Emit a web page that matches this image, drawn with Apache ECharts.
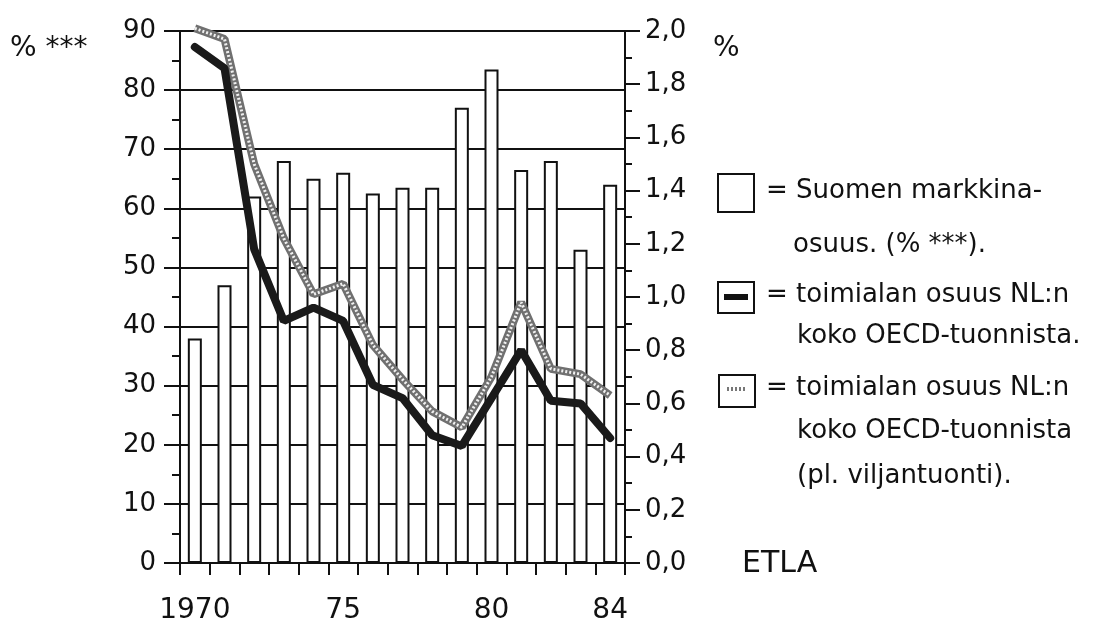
<!DOCTYPE html>
<html>
<head>
<meta charset="utf-8">
<script src="https://cdn.jsdelivr.net/npm/echarts@6/dist/echarts.min.js"></script>
<style>
html, body { margin: 0; padding: 0; background: #fff; }
#chart { width: 1096px; height: 636px; }
</style>
</head>
<body>
<div id="chart"></div>
<script>
"use strict";
// vuodet ja akselin näkyvät nimikkeet
const years = ['1970', '1971', '1972', '1973', '1974', '1975', '1976', '1977',
    '1978', '1979', '1980', '1981', '1982', '1983', '1984'];
const yearLabels = { '1970': '1970', '1975': '75', '1980': '80', '1984': '84' };

// Suomen markkinaosuus (% ***), vasen akseli
const marketShare = [38, 47, 62, 68, 65, 66, 62.5, 63.5, 63.5, 77, 83.5, 66.5, 68, 53, 64];
// toimialan osuus NL:n koko OECD-tuonnista (%), oikea akseli
const importShare = [1.94, 1.86, 1.18, 0.91, 0.96, 0.91, 0.67, 0.62, 0.48, 0.44, 0.62, 0.80, 0.61, 0.60, 0.47];
// sama ilman viljantuontia
const importShareExGrain = [2.01, 1.97, 1.50, 1.22, 1.01, 1.05, 0.82, 0.69, 0.57, 0.51, 0.70, 0.98, 0.73, 0.71, 0.63];

const FONT = 'DejaVu Sans';

(() => {
    let chart = echarts.init(document.getElementById('chart'));
    const txt = (x, y, text, size) => ({
        type: 'text', left: x, top: y,
        style: { text: text, font: (size || 26) + 'px "' + FONT + '"', fill: '#111' }
    });

    let option = {
        animation: false,
        backgroundColor: '#fff',
        grid: { left: 180, right: 471, top: 31, bottom: 73 },
        xAxis: {
            type: 'category',
            data: years,
            boundaryGap: true,
            axisLine: { lineStyle: { color: '#111', width: 2 } },
            axisTick: { show: true, length: 12, lineStyle: { color: '#111', width: 2 }, interval: 0 },
            axisLabel: {
                interval: (i, v) => yearLabels[v] !== undefined,
                formatter: v => yearLabels[v] || '',
                color: '#111', fontFamily: FONT, fontSize: 28, margin: 34
            }
        },
        yAxis: [
            {
                type: 'value', min: 0, max: 90, interval: 10,
                axisLine: { show: true, lineStyle: { color: '#111', width: 2 } },
                axisTick: { show: true, length: 16, lineStyle: { color: '#111', width: 2 } },
                minorTick: { show: true, splitNumber: 2, length: 8, lineStyle: { color: '#111', width: 2 } },
                splitLine: { show: true, lineStyle: { color: '#111', width: 2 } },
                axisLabel: { color: '#111', fontFamily: FONT, fontSize: 26, margin: 24 }
            },
            {
                type: 'value', min: 0, max: 2, interval: 0.2, position: 'right',
                axisLine: { show: true, lineStyle: { color: '#111', width: 2 } },
                axisTick: { show: true, length: 15, lineStyle: { color: '#111', width: 2 } },
                minorTick: { show: true, splitNumber: 2, length: 7, lineStyle: { color: '#111', width: 2 } },
                splitLine: { show: false },
                axisLabel: {
                    color: '#111', fontFamily: FONT, fontSize: 26, margin: 20,
                    formatter: v => v.toFixed(1).replace('.', ',')
                }
            }
        ],
        series: [
            {
                name: 'Suomen markkinaosuus',
                type: 'bar',
                data: marketShare,
                barWidth: 14,
                itemStyle: { color: '#fff', borderColor: '#111', borderWidth: 2 },
                z: 2
            },
            {
                name: 'ilman viljantuontia',
                type: 'line',
                yAxisIndex: 1,
                data: importShareExGrain,
                symbol: 'none',
                clip: false,
                lineStyle: { color: '#707070', width: 8 },
                z: 3
            },
            {
                name: 'ilman viljantuontia (kuvio)',
                type: 'line',
                yAxisIndex: 1,
                data: importShareExGrain,
                symbol: 'none',
                clip: false,
                lineStyle: { color: '#f0f0f0', width: 3, type: [2, 2] },
                z: 4
            },
            {
                name: 'toimialan osuus',
                type: 'line',
                yAxisIndex: 1,
                data: importShare,
                symbol: 'none',
                clip: false,
                lineStyle: { color: '#1a1a1a', width: 8, cap: 'round' },
                z: 5
            }
        ],
        graphic: [
            txt(10, 35, '% ***', 28),
            txt(713, 35, '%', 28),
            // selite
            { type: 'rect', shape: { x: 718, y: 174, width: 36, height: 38 },
              style: { fill: '#fff', stroke: '#111', lineWidth: 2 } },
            txt(766, 178, '= Suomen markkina-'),
            txt(793, 232, 'osuus. (% ***).'),
            { type: 'rect', shape: { x: 718, y: 282, width: 36, height: 31 },
              style: { fill: '#fff', stroke: '#111', lineWidth: 2 } },
            { type: 'rect', shape: { x: 724, y: 294, width: 24, height: 6 }, style: { fill: '#111' } },
            txt(766, 282, '= toimialan osuus NL:n'),
            txt(797, 323, 'koko OECD-tuonnista.'),
            { type: 'rect', shape: { x: 719, y: 375, width: 36, height: 32 },
              style: { fill: '#fff', stroke: '#111', lineWidth: 2 } },
            { type: 'line', shape: { x1: 727, y1: 389, x2: 746, y2: 389 },
              style: { stroke: '#777', lineWidth: 4, lineDash: [2, 2] } },
            txt(766, 375, '= toimialan osuus NL:n'),
            txt(797, 418, 'koko OECD-tuonnista'),
            txt(797, 463, '(pl. viljantuonti).'),
            txt(742, 549, 'ETLA', 30)
        ]
    };
    chart.setOption(option);
})();
</script>
</body>
</html>
